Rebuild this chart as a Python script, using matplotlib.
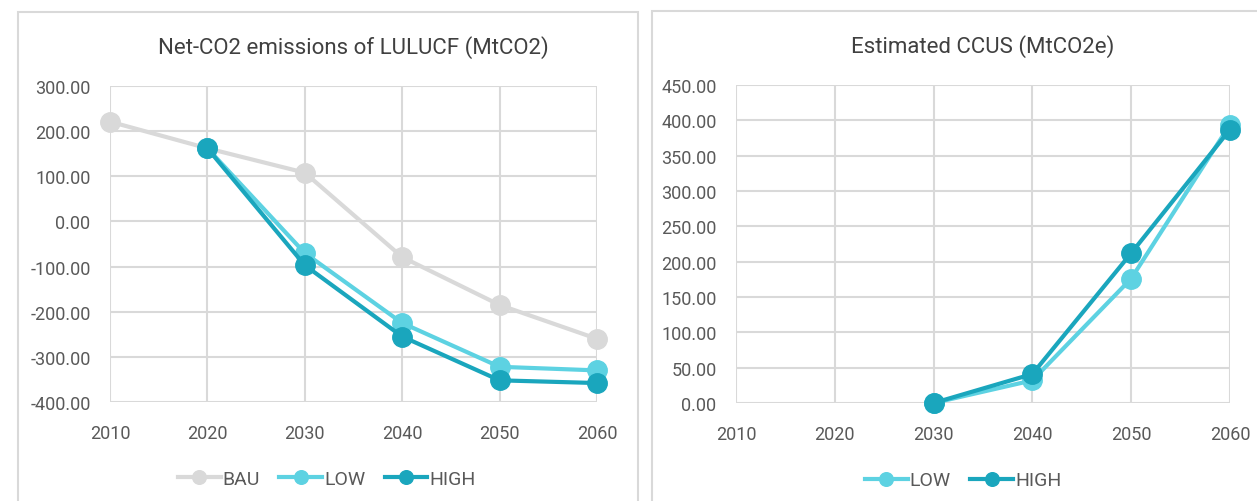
import numpy as np
import matplotlib.pyplot as plt
from matplotlib.patches import Rectangle

years = [2010, 2020, 2030, 2040, 2050, 2060]

# Net-CO2 emissions of LULUCF (MtCO2)
lulucf_bau = [221, 162, 108, -79, -185, -260]
lulucf_low = [None, 162, -70, -225, -322, -330]
lulucf_high = [None, 162, -97, -255, -352, -358]

# Estimated CCUS (MtCO2e)
ccus_years = [2030, 2040, 2050, 2060]
ccus_low = [0, 32, 176, 394]
ccus_high = [0, 41, 212, 387]

GREY = '#d9d9d9'
LOW_C = '#5dd2e2'
HIGH_C = '#1aa6bd'

plt.rcParams['font.family'] = ['Roboto', 'DejaVu Sans']

fig = plt.figure(figsize=(12.57, 5.02), dpi=100)

# panel frames
fig.patches.append(Rectangle((18 / 1257, -0.05), 620 / 1257, 1.05 - 13 / 502,
                             transform=fig.transFigure, fill=False,
                             edgecolor='#d9d9d9', lw=1.5))
fig.patches.append(Rectangle((652 / 1257, -0.05), 0.6, 1.05 - 12 / 502,
                             transform=fig.transFigure, fill=False,
                             edgecolor='#d9d9d9', lw=1.5))


def style(ax, ylim, step):
    ax.set_xlim(2010, 2060)
    ax.set_ylim(*ylim)
    ax.set_xticks(years)
    ax.set_yticks(np.arange(ylim[0], ylim[1] + 1, step))
    ax.yaxis.set_major_formatter(plt.FuncFormatter(lambda v, p: f'{v:.2f}'))
    ax.grid(True, color='#d9d9d9', lw=1.5)
    ax.set_axisbelow(True)
    for s in ax.spines.values():
        s.set_visible(False)
    ax.tick_params(length=0, labelsize=13, colors='#595959')
    ax.tick_params(axis='x', pad=16)
    ax.tick_params(axis='y', pad=14)


ms = 14
lw = 3

ax1 = fig.add_axes([0.0875, 0.1972, 0.3874, 0.6295])
ax1.plot(years, lulucf_bau, color=GREY, marker='o', ms=ms, lw=lw, label='BAU', clip_on=False)
ax1.plot(years, lulucf_low, color=LOW_C, marker='o', ms=ms, lw=lw, label='LOW', clip_on=False)
ax1.plot(years, lulucf_high, color=HIGH_C, marker='o', ms=ms, lw=lw, label='HIGH', clip_on=False)
style(ax1, (-400, 300), 100)
ax1.set_title('Net-CO2 emissions of LULUCF (MtCO2)', fontsize=16, color='#404040', pad=24)
ax1.legend(loc='upper center', bbox_to_anchor=(0.445, -0.16), ncol=3, frameon=False,
           fontsize=14, markerscale=0.7, handlelength=2.2, handletextpad=0.1,
           columnspacing=1.0, labelcolor='#595959')

ax2 = fig.add_axes([0.5855, 0.1952, 0.393, 0.6335])
ax2.plot(ccus_years, ccus_low, color=LOW_C, marker='o', ms=ms, lw=lw, label='LOW', clip_on=False)
ax2.plot(ccus_years, ccus_high, color=HIGH_C, marker='o', ms=ms, lw=lw, label='HIGH', clip_on=False)
style(ax2, (0, 450), 50)
ax2.set_title('Estimated CCUS (MtCO2e)', fontsize=16, color='#404040', pad=24)
ax2.legend(loc='upper center', bbox_to_anchor=(0.46, -0.16), ncol=2, frameon=False,
           fontsize=14, markerscale=0.7, handlelength=2.2, handletextpad=0.1,
           columnspacing=1.0, labelcolor='#595959')

fig.savefig('out.png', dpi=100)
